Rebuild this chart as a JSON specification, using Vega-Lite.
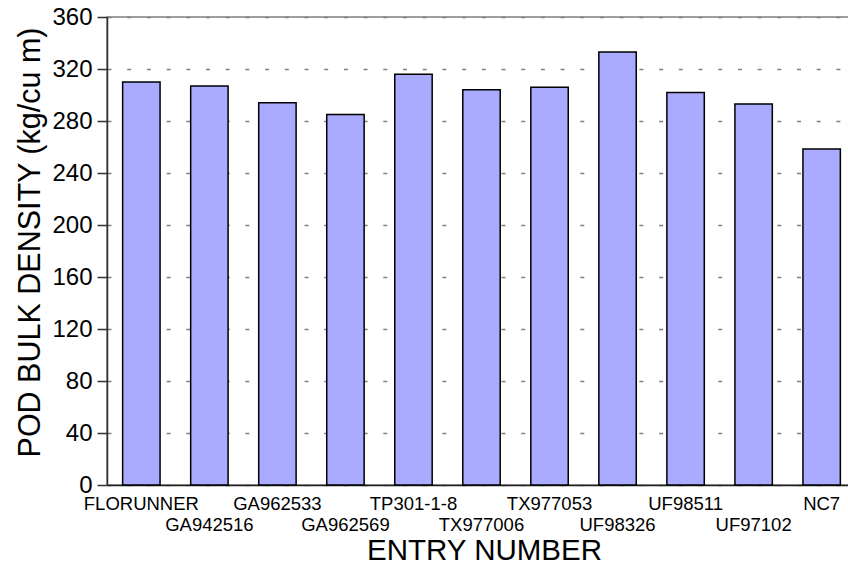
{
  "$schema": "https://vega.github.io/schema/vega-lite/v6.json",
  "width": 749,
  "height": 468,
  "autosize": {"type": "none"},
  "padding": {"left": 107, "top": 17, "right": 0, "bottom": 82},
  "background": "white",
  "config": {
    "view": {"stroke": "#808080", "strokeWidth": 1.5},
    "font": "Liberation Sans"
  },
  "data": {
    "values": [
      {"entry": "FLORUNNER", "density": 310},
      {"entry": "GA942516", "density": 307},
      {"entry": "GA962533", "density": 294},
      {"entry": "GA962569", "density": 285},
      {"entry": "TP301-1-8", "density": 316},
      {"entry": "TX977006", "density": 304},
      {"entry": "TX977053", "density": 306},
      {"entry": "UF98326", "density": 333},
      {"entry": "UF98511", "density": 302},
      {"entry": "UF97102", "density": 293},
      {"entry": "NC7", "density": 258.5}
    ]
  },
  "mark": {"type": "bar", "fill": "#AAAAFF", "stroke": "black", "strokeWidth": 1.5},
  "encoding": {
    "x": {
      "field": "entry",
      "type": "nominal",
      "sort": null,
      "scale": {"paddingInner": 0.45, "paddingOuter": 0.23},
      "axis": {
        "title": "ENTRY NUMBER",
        "titleFont": "Liberation Sans",
        "titleFontSize": 29.5,
        "titleFontWeight": "normal",
        "titleColor": "black",
        "titlePadding": 3,
        "titleX": 377,
        "labelAngle": 0,
        "labelFontSize": 18.5,
        "labelColor": "black",
        "labelPadding": 9,
        "labelLineHeight": 21,
        "labelExpr": "indexof(['GA942516','GA962569','TX977006','UF98326','UF97102'], datum.value) >= 0 ? ['', datum.value] : datum.value",
        "labelOverlap": false,
        "labelBound": false,
        "labelFlush": false,
        "ticks": false,
        "domainColor": "#202020",
        "domainWidth": 1.5,
        "grid": false
      }
    },
    "y": {
      "field": "density",
      "type": "quantitative",
      "scale": {"domain": [0, 360], "nice": false},
      "axis": {
        "title": "POD BULK DENSITY (kg/cu m)",
        "titleFont": "Liberation Sans",
        "titleFontSize": 30.5,
        "titleFontWeight": "normal",
        "titleColor": "black",
        "titlePadding": 6,
        "titleY": 225,
        "values": [0, 40, 80, 120, 160, 200, 240, 280, 320, 360],
        "labelFontSize": 24,
        "labelColor": "black",
        "labelPadding": 5,
        "tickSize": 10,
        "tickColor": "#303030",
        "tickWidth": 1.5,
        "domainColor": "#303030",
        "domainWidth": 1.5,
        "grid": true,
        "gridColor": "#808080",
        "gridWidth": 1.5,
        "gridDash": [4, 15.7]
      }
    }
  }
}
